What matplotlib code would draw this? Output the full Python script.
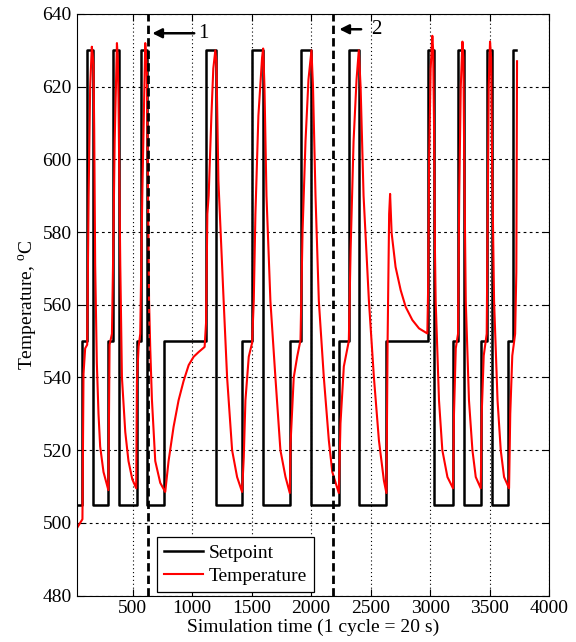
import matplotlib
matplotlib.use('Agg')
import matplotlib.pyplot as plt

plt.rcParams['font.family'] = ['Liberation Serif', 'DejaVu Serif']
plt.rcParams['mathtext.fontset'] = 'custom'
plt.rcParams['mathtext.rm'] = 'Liberation Serif'

# setpoint profile (step changes: time, level)
setpoint_t = [31, 73, 115, 171, 297, 334, 385, 536, 572, 620, 766, 1114, 1198,
              1420, 1504, 1597, 1821, 1913, 2003, 2233, 2317, 2401, 2626, 2986,
              3033, 3193, 3235, 3283, 3426, 3476, 3519, 3659, 3701, 3721]
setpoint_T = [505, 550, 630, 505, 550, 630, 505, 550, 630, 505, 550, 630, 505,
              550, 630, 505, 550, 630, 505, 550, 630, 505, 550, 630,
              505, 550, 630, 505, 550, 630, 505, 550, 630, 630]

temp_t = [31, 78, 87, 101, 118, 130, 143, 157, 164, 171, 177, 185, 199, 213, 227, 255, 296,
          303, 306, 326, 337, 349, 368, 375, 381, 396, 410, 438, 465, 497, 530,
          536, 550, 564, 581, 606, 619, 631, 638, 648, 662, 690, 732, 774, 802, 844, 886,
          928, 971, 1013, 1055, 1105,
          1117, 1128, 1139, 1162, 1178, 1195, 1204, 1221, 1246, 1265, 1294, 1336, 1378, 1420,
          1434, 1448, 1476, 1504, 1518, 1532, 1557, 1588, 1597, 1608, 1625, 1658, 1700, 1742,
          1785, 1821,
          1827, 1854, 1883, 1911, 1928, 1953, 1978, 2003, 2016, 2037, 2065, 2107, 2149, 2178,
          2233,
          2247, 2275, 2317, 2332, 2357, 2382, 2401, 2416, 2441, 2486, 2528, 2570, 2612, 2633,
          2643, 2656, 2664, 2677, 2710, 2753, 2795, 2851, 2907, 2977,
          2984, 2992, 3005, 3019, 3026, 3033, 3041, 3047, 3075, 3103, 3146, 3193,
          3201, 3216, 3235, 3245, 3258, 3272, 3280, 3287, 3300, 3327, 3356, 3384, 3426,
          3434, 3451, 3476, 3485, 3493, 3504, 3513, 3521, 3538, 3567, 3594, 3622, 3664,
          3674, 3691, 3715, 3725, 3729, 3731]
temp_T = [498.5, 501, 541, 548, 549, 590, 620, 631, 629, 626, 608, 571, 544, 530, 521, 514, 509,
          535, 549, 552, 575, 605, 632, 628, 617, 571, 540, 525, 517, 512, 509.5,
          539, 548.5, 552, 590, 632, 625, 585, 561, 548, 534, 517, 511, 508.5, 517, 526.4, 533.7,
          539, 543.4, 545.7, 547, 548.4,
          555, 585, 590, 612, 625, 630, 627, 594, 575, 561, 540, 520, 512.6, 508.5,
          518, 533.7, 545.7, 549.5, 561, 585, 612, 628, 630.5, 620, 590, 561, 540, 520,
          512.6, 508.2,
          521.6, 540, 545.7, 550.3, 580, 605, 622, 630, 620, 590, 561, 540, 522.7, 514,
          508.2,
          527.4, 543, 550, 575, 605, 622, 630, 620, 590, 561, 540, 522.7, 511.6, 508.2,
          550, 585, 590.5, 579.7, 570.4, 564, 559.4, 555.8, 553.5, 552.1,
          565, 600, 625, 634, 630, 610, 575, 561, 533.7, 520, 512.6, 509.5,
          530, 548, 552, 590, 620, 632.4, 628, 600, 561, 533.7, 520, 512.6, 509.5,
          530, 546, 552, 590, 620, 632.4, 628, 600, 561, 533.7, 520, 512.6, 509.5,
          530, 546, 552, 569, 611, 627]

marker_t = [629, 2186]
x_ticks = [500, 1000, 1500, 2000, 2500, 3000, 3500, 4000]
y_ticks = [480, 500, 520, 540, 560, 580, 600, 620, 640]

fig = plt.figure(figsize=(5.76, 6.42), dpi=100)
ax = fig.add_axes([0.1332, 0.0724, 0.820, 0.9058])

ax.plot(setpoint_t, setpoint_T, color='black', lw=1.8, drawstyle='steps-post', label='Setpoint')
ax.plot(temp_t, temp_T, color='red', lw=1.5, label='Temperature')

for t in marker_t:
    ax.axvline(t, color='black', lw=2, ls=(0, (3, 1.5)), zorder=3)

ax.annotate('', xy=(642, 634.7), xytext=(1041, 634.7),
            arrowprops=dict(arrowstyle='-|>', color='black', lw=1.8, mutation_scale=14))
ax.text(1052, 634.7, '1', fontsize=15, va='center', ha='left')
ax.annotate('', xy=(2214, 635.8), xytext=(2444, 635.8),
            arrowprops=dict(arrowstyle='-|>', color='black', lw=1.8, mutation_scale=14))
ax.text(2508, 635.8, '2', fontsize=15, va='center', ha='left')

ax.set_xlim(30, 4000)
ax.set_ylim(480, 640)
ax.set_xticks(x_ticks)
ax.set_yticks(y_ticks)
ax.tick_params(direction='in', top=True, right=True, labelsize=14, length=5, width=0.8)

ax.yaxis.grid(True, color='black', ls=(0, (2.5, 3)), lw=0.8)
ax.xaxis.grid(True, color='black', ls=(0, (1, 2.5)), lw=0.8)

ax.set_xlabel('Simulation time (1 cycle = 20 s)', fontsize=14, labelpad=1)
ax.set_ylabel('Temperature, $^{\\mathrm{o}}$C', fontsize=14, labelpad=2)

leg = ax.legend(loc='lower left', bbox_to_anchor=(0.17, 0.006), fontsize=14,
                fancybox=False, edgecolor='black', framealpha=1, handlelength=2.0,
                handletextpad=0.3, borderpad=0.35, labelspacing=0.3, borderaxespad=0)
leg.get_frame().set_linewidth(0.9)

fig.savefig('out.png', dpi=100)
